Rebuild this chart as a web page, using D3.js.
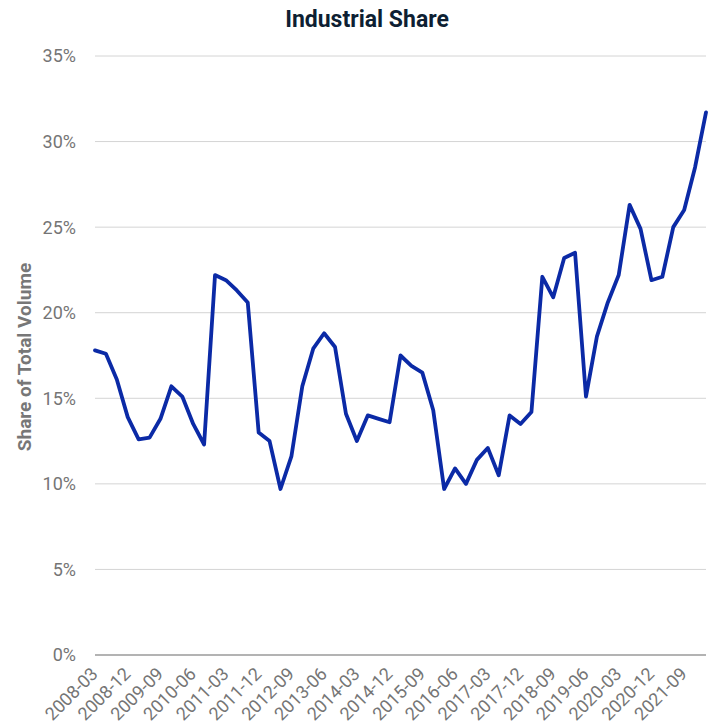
<!DOCTYPE html>
<html>
<head>
<meta charset="utf-8">
<script src="https://cdn.jsdelivr.net/npm/d3@7.9.0/dist/d3.min.js"></script>
<style>
  body { margin: 0; background: #fff; }
  svg { display: block; font-family: Roboto, "Noto Sans", sans-serif; }
</style>
</head>
<body>
<svg id="chart" width="708" height="727"></svg>
<script>
// quarterly, 2008-03 .. 2022-03
const quarters = [];
for (let y = 2008; y <= 2022; y++) {
  for (const m of ['03', '06', '09', '12']) {
    if (y === 2022 && m !== '03') continue;
    quarters.push(`${y}-${m}`);
  }
}

const share = [
  17.8, 17.6, 16.1, 13.9, 12.6, 12.7, 13.8, 15.7, 15.1, 13.5,
  12.3, 22.2, 21.9, 21.3, 20.6, 13.0, 12.5, 9.7, 11.6, 15.7,
  17.9, 18.8, 18.0, 14.1, 12.5, 14.0, 13.8, 13.6, 17.5, 16.9,
  16.5, 14.3, 9.7, 10.9, 10.0, 11.4, 12.1, 10.5, 14.0, 13.5,
  14.2, 22.1, 20.9, 23.2, 23.5, 15.1, 18.6, 20.6, 22.2, 26.3,
  24.9, 21.9, 22.1, 25.0, 26.0, 28.5, 31.7
];

const yTicks = [0, 5, 10, 15, 20, 25, 30, 35];
const xTickLabels = quarters.filter((d, i) => i % 3 === 0 && i < quarters.length - 2);

const svg = d3.select('#chart');
const margin = { top: 56, right: 2, bottom: 72, left: 95 };
const width = 708 - margin.left - margin.right;
const height = 727 - margin.top - margin.bottom;

const x = d3.scalePoint().domain(quarters).range([0, width]);
const y = d3.scaleLinear().domain([0, 35]).range([height, 0]);

const g = svg.append('g').attr('transform', `translate(${margin.left},${margin.top})`);

// gridlines
g.selectAll('.grid')
  .data(yTicks)
  .join('line')
  .attr('x1', 0).attr('x2', width)
  .attr('y1', d => y(d)).attr('y2', d => y(d))
  .attr('stroke', d => d === 0 ? '#9a9a9a' : '#d4d4d4')
  .attr('stroke-width', d => d === 0 ? 1.6 : 1);

// y tick labels
g.selectAll('.ylab')
  .data(yTicks)
  .join('text')
  .attr('x', -19)
  .attr('y', d => y(d))
  .attr('dy', '0.36em')
  .attr('text-anchor', 'end')
  .attr('fill', '#757575')
  .attr('font-size', 18)
  .text(d => d + '%');

// x tick labels
g.selectAll('.xlab')
  .data(xTickLabels)
  .join('text')
  .attr('transform', d => `translate(${x(d) + 4},${height + 20}) rotate(-45)`)
  .attr('text-anchor', 'end')
  .attr('fill', '#757575')
  .attr('font-size', 18)
  .text(d => d);

// line
const line = d3.line()
  .x((d, i) => x(quarters[i]))
  .y(d => y(d));

g.append('path')
  .datum(share)
  .attr('d', line)
  .attr('fill', 'none')
  .attr('stroke', '#0b2aa6')
  .attr('stroke-width', 3.8)
  .attr('stroke-linejoin', 'round')
  .attr('stroke-linecap', 'round');

// title
svg.append('text')
  .attr('x', 367)
  .attr('y', 27)
  .attr('text-anchor', 'middle')
  .attr('fill', '#0e1f33')
  .attr('font-size', 23)
  .attr('font-weight', 700)
  .text('Industrial Share');

// y axis title
svg.append('text')
  .attr('transform', `translate(31,357) rotate(-90)`)
  .attr('text-anchor', 'middle')
  .attr('fill', '#777')
  .attr('font-size', 19)
  .attr('font-weight', 700)
  .text('Share of Total Volume');
</script>
</body>
</html>
